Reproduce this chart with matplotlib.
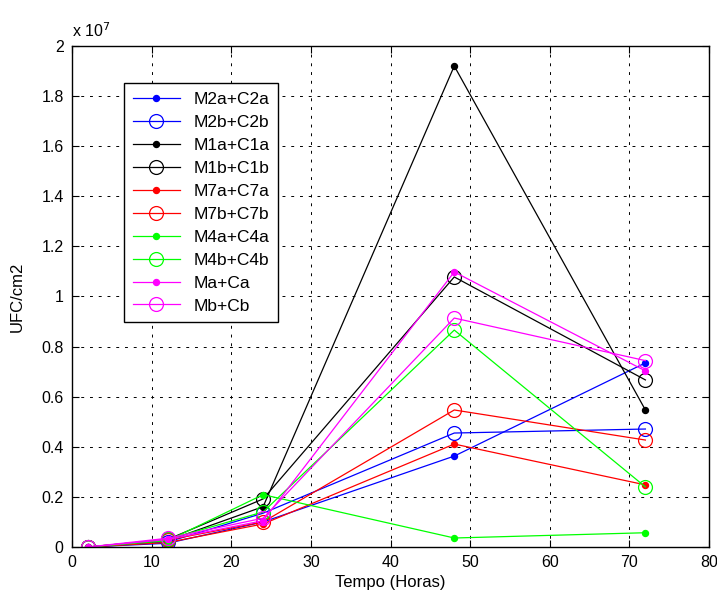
import matplotlib
matplotlib.use("Agg")
import matplotlib.pyplot as plt
from matplotlib.ticker import FuncFormatter, MultipleLocator

plt.rcParams['font.family'] = ['Liberation Sans', 'DejaVu Sans']

hours = [2, 12, 24, 48, 72]
labels = ['M2a+C2a', 'M2b+C2b', 'M1a+C1a', 'M1b+C1b', 'M7a+C7a',
          'M7b+C7b', 'M4a+C4a', 'M4b+C4b', 'Ma+Ca', 'Mb+Cb']
# values in units of 1e7 UFC/cm2
m2a = [0.0, 0.015, 0.10, 0.363, 0.735]
m2b = [0.0, 0.020, 0.135, 0.455, 0.471]
m1a = [0.0, 0.025, 0.161, 1.920, 0.547]
m1b = [0.0, 0.030, 0.192, 1.078, 0.667]
m7a = [0.0, 0.018, 0.092, 0.411, 0.248]
m7b = [0.0, 0.028, 0.100, 0.547, 0.427]
m4a = [0.0, 0.025, 0.209, 0.036, 0.057]
m4b = [0.0, 0.030, 0.140, 0.866, 0.240]
ma = [0.0, 0.030, 0.105, 1.098, 0.703]
mb = [0.0, 0.035, 0.115, 0.914, 0.744]

series = [m2a, m2b, m1a, m1b, m7a, m7b, m4a, m4b, ma, mb]
colors = ['#0000ff', '#0000ff', '#000000', '#000000', '#ff0000',
          '#ff0000', '#00ff00', '#00ff00', '#ff00ff', '#ff00ff']
scale = 1e7

fig = plt.figure(figsize=(7.17, 5.94), dpi=100)
ax = fig.add_axes([0.1004, 0.0791, 0.8886, 0.8435])

for i, (lab, vals, c) in enumerate(zip(labels, series, colors)):
    y = [v * scale for v in vals]
    if i % 2 == 0:
        ax.plot(hours, y, '-', color=c, lw=0.9, marker='o', markersize=4.3,
                markerfacecolor=c, markeredgecolor=c, label=lab)
    else:
        ax.plot(hours, y, '-', color=c, lw=0.9, marker='o', markersize=10,
                markerfacecolor='none', markeredgecolor=c, markeredgewidth=0.9,
                label=lab)

ax.set_xlim(0, 80)
ax.set_ylim(0, 2e7)
ax.xaxis.set_major_locator(MultipleLocator(10))
ax.yaxis.set_major_locator(MultipleLocator(0.2e7))
ax.yaxis.set_major_formatter(FuncFormatter(lambda v, p: '%g' % round(v / scale, 4)))
ax.grid(True, color='black', linestyle=(0, (3, 6)), linewidth=0.7)
ax.tick_params(direction='in', top=True, right=True, labelsize=11.5, length=5,
               width=0.8, pad=6)
for s in ax.spines.values():
    s.set_linewidth(1.0)

ax.set_xlabel('Tempo (Horas)', fontsize=12, labelpad=3)
ax.set_ylabel('UFC/cm2', fontsize=12, labelpad=12)
ax.text(0.0, 1.012, r'x 10$^7$', transform=ax.transAxes, fontsize=11.5,
        ha='left', va='bottom')

leg = ax.legend(loc='upper left', bbox_to_anchor=(0.0816, 0.926), borderaxespad=0,
                fontsize=12.5, handlelength=2.7, labelspacing=0.45,
                fancybox=False, framealpha=1, edgecolor='black',
                borderpad=0.5, handletextpad=0.8)
leg.get_frame().set_linewidth(1.0)

fig.savefig('out.png', dpi=100)
